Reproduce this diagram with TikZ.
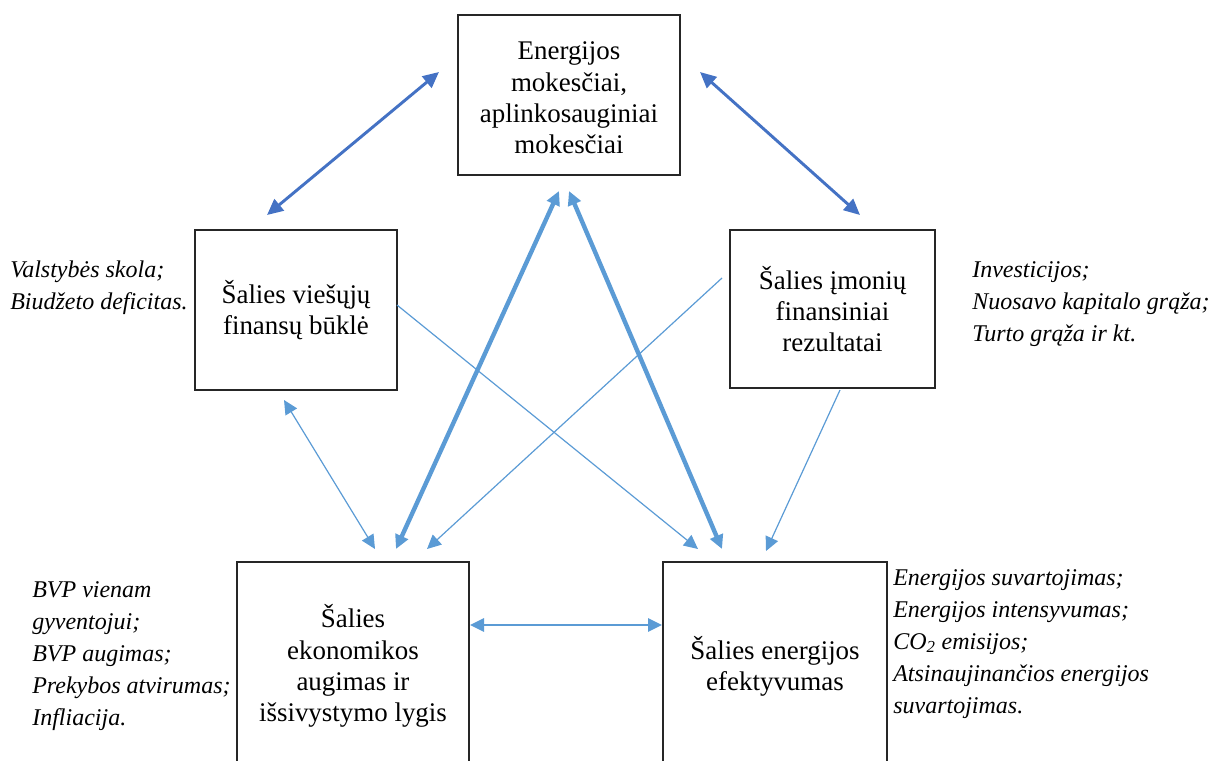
\documentclass[tikz,border=0pt]{standalone}
\usepackage{fontspec}
\setmainfont{Liberation Serif}
\usetikzlibrary{arrows.meta}
\definecolor{dblue}{HTML}{4472C4}
\definecolor{lblue}{HTML}{5B9BD5}
\begin{document}
\begin{tikzpicture}[x=0.75pt,y=-0.75pt,
  box/.style={draw=black!85,line width=1.1pt,align=center,inner sep=0pt,
    font=\fontsize{20.2}{23.4}\selectfont},
  boxtext/.style={align=center,inner sep=0pt,font=\fontsize{20.2}{23.4}\selectfont},
  side/.style={align=left,inner sep=0pt,anchor=west,
    font=\fontsize{18}{24}\selectfont\itshape},
  tip/.style={-{Triangle[length=10.5pt,width=10pt]}},
  dtip/.style={{Triangle[length=10.5pt,width=10pt]}-{Triangle[length=10.5pt,width=10pt]}},
  darr/.style={dblue,line width=2.2pt,{Triangle[length=12pt,width=11pt]}-{Triangle[length=12pt,width=11pt]}},
  thick arr/.style={lblue,line width=3.3pt},
  thin arr/.style={lblue,line width=0.9pt}]
\useasboundingbox (0,0) rectangle (1209,760);
% boxes
\node[box,minimum width=166.5pt,minimum height=120pt] (top) at (569,95) {};
\node[boxtext] (toptext) at (569,98)
  {Energijos\\mokesčiai,\\aplinkosauginiai\\mokesčiai};
\node[box,minimum width=151.5pt,minimum height=120pt] (pub) at (296,310)
  {Šalies viešųjų\\finansų būklė};
\node[box,minimum width=153.75pt,minimum height=118.5pt] (firm) at (832.5,309)
  {Šalies įmonių\\finansiniai\\rezultatai};
\node[box,minimum width=174pt,minimum height=156pt] (econ) at (353,666)
  {Šalies\\ekonomikos\\augimas ir\\išsivystymo lygis};
\node[box,minimum width=168pt,minimum height=156pt] (energy) at (775,666)
  {Šalies energijos\\efektyvumas};
% side texts
\node[side] (spub) at (10,288) {Valstybės skola;\\Biudžeto deficitas.};
\node[side] (sfirm) at (972,304.5) {Investicijos;\\Nuosavo kapitalo grąža;\\Turto grąža ir kt.};
\node[side] (secon) at (32,656) {BVP vienam\\gyventojui;\\BVP augimas;\\Prekybos atvirumas;\\Infliacija.};
\node[side] (senergy) at (893,644) {Energijos suvartojimas;\\Energijos intensyvumas;\\CO\textsubscript{2} emisijos;\\Atsinaujinančios energijos\\suvartojimas.};
% connector end points
\coordinate (a1t) at (439,72);  \coordinate (a1b) at (267,215);
\coordinate (a2t) at (700,72);  \coordinate (a2b) at (860,215);
\coordinate (t1t) at (559,191); \coordinate (t1b) at (396,549);
\coordinate (t2t) at (569,191); \coordinate (t2b) at (722,549);
\coordinate (l1t) at (284,400); \coordinate (l1b) at (375,549);
\coordinate (pubout) at (397,305); \coordinate (pubend) at (698,549);
\coordinate (firmout) at (722,278); \coordinate (firmend) at (427,549);
\coordinate (firmbot) at (840,390); \coordinate (firmbend) at (766,551);
\coordinate (hl) at (470,625); \coordinate (hr) at (662,625);
% connectors
\draw[darr] (a1b) -- (a1t);
\draw[darr] (a2t) -- (a2b);
\draw[thick arr,dtip] (t1b) -- (t1t);
\draw[thick arr,dtip] (t2t) -- (t2b);
\draw[thin arr,dtip] (l1t) -- (l1b);
\draw[thin arr,tip] (pubout) -- (pubend);
\draw[thin arr,tip] (firmout) -- (firmend);
\draw[thin arr,tip] (firmbot) -- (firmbend);
\draw[thin arr,line width=1.4pt,dtip] (hl) -- (hr);
\end{tikzpicture}
\end{document}
